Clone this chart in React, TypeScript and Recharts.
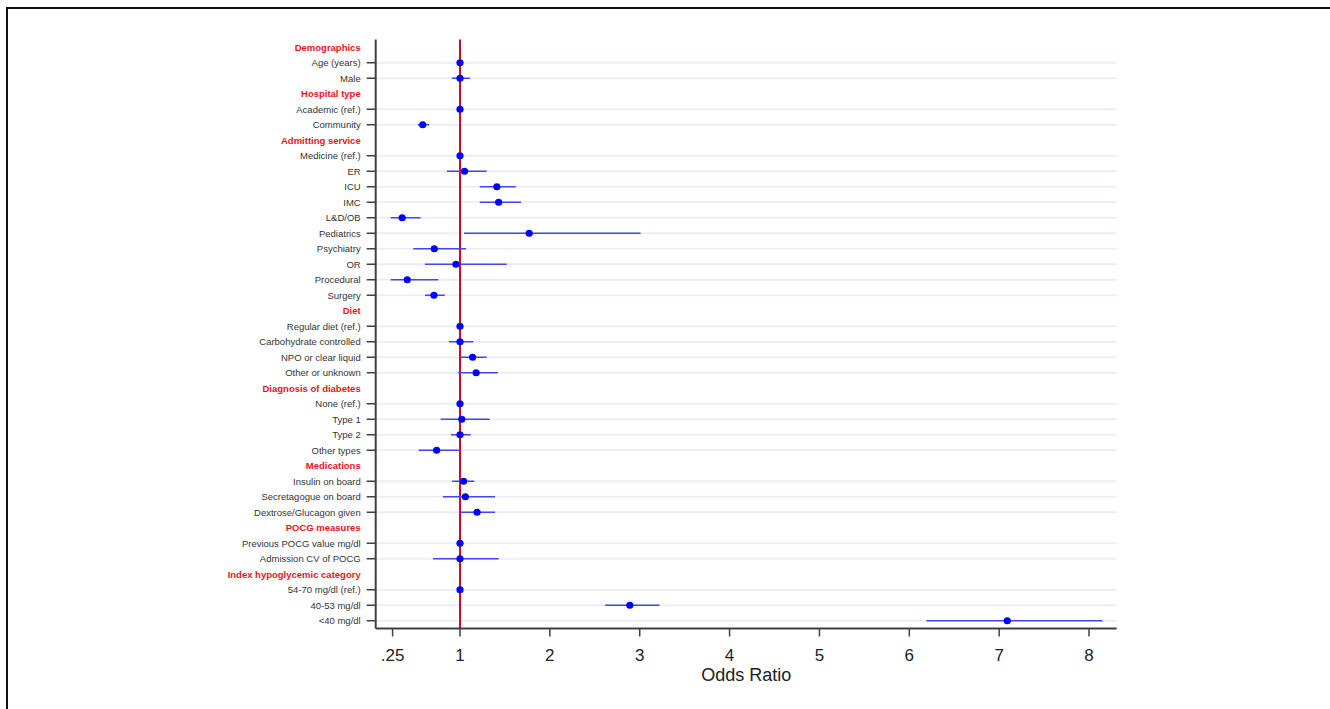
import { ComposedChart, Line, XAxis, YAxis, ErrorBar, ReferenceLine, Label } from 'recharts';

const rowLabels = [
  'Demographics', 'Age (years)', 'Male',
  'Hospital type', 'Academic (ref.)', 'Community',
  'Admitting service', 'Medicine (ref.)', 'ER', 'ICU', 'IMC', 'L&D/OB', 'Pediatrics', 'Psychiatry', 'OR', 'Procedural', 'Surgery',
  'Diet', 'Regular diet (ref.)', 'Carbohydrate controlled', 'NPO or clear liquid', 'Other or unknown',
  'Diagnosis of diabetes', 'None (ref.)', 'Type 1', 'Type 2', 'Other types',
  'Medications', 'Insulin on board', 'Secretagogue on board', 'Dextrose/Glucagon given',
  'POCG measures', 'Previous POCG value mg/dl', 'Admission CV of POCG',
  'Index hypoglycemic category', '54-70 mg/dl (ref.)', '40-53 mg/dl', '<40 mg/dl',
];

// null = section heading
const oddsRatio = [
  null, 1.0, 1.0,
  null, 1, 0.585,
  null, 1, 1.05, 1.41, 1.43, 0.357, 1.77, 0.714, 0.955, 0.413, 0.71,
  null, 1, 1.0, 1.14, 1.18,
  null, 1, 1.02, 1.0, 0.74,
  null, 1.04, 1.06, 1.19,
  null, 1.0, 1.0,
  null, 1, 2.89, 7.09,
];
const ciLower = [
  null, 0.99, 0.91,
  null, 1, 0.53,
  null, 1, 0.855, 1.22, 1.22, 0.23, 1.045, 0.48, 0.61, 0.228, 0.61,
  null, 1, 0.877, 1.008, 0.98,
  null, 1, 0.785, 0.9, 0.54,
  null, 0.91, 0.81, 1.01,
  null, 0.995, 0.7,
  null, 1, 2.615, 6.19,
];
const ciUpper = [
  null, 1.01, 1.11,
  null, 1, 0.655,
  null, 1, 1.297, 1.62, 1.68, 0.56, 3.01, 1.067, 1.52, 0.758, 0.83,
  null, 1, 1.148, 1.297, 1.42,
  null, 1, 1.33, 1.12, 1.0,
  null, 1.16, 1.39, 1.39,
  null, 1.005, 1.43,
  null, 1, 3.22, 8.15,
];
const xTicks = [0.25, 1, 2, 3, 4, 5, 6, 7, 8];

const FONT = '"Liberation Sans", Arial, sans-serif';

const data = rowLabels.map((label, i) => {
  const or = oddsRatio[i];
  const lo = ciLower[i];
  const hi = ciUpper[i];
  return {
    label,
    or,
    err: or == null || lo == null || hi == null ? null : [or - lo, hi - or],
  };
});

const isHeading = (label: string) => oddsRatio[rowLabels.indexOf(label)] == null;

function RowTick(props: any) {
  const { x, y, payload } = props;
  const heading = isHeading(payload.value);
  return (
    <g>
      {!heading && <line x1={x - 9} x2={x} y1={y} y2={y} stroke="#404040" strokeWidth={1.5} />}
      <text
        x={x - 15}
        y={y}
        dy="0.35em"
        textAnchor="end"
        fontSize={9.5}
        fontFamily={FONT}
        fontWeight={heading ? 'bold' : 'normal'}
        fill={heading ? '#e8141c' : '#333'}
      >
        {payload.value}
      </text>
    </g>
  );
}

export default function App() {
  return (
    <div style={{ position: 'absolute', left: 0, top: 0, width: 1330, height: 709, background: '#fff' }}>
      <div
        style={{
          position: 'absolute', left: 6, top: 7, width: 1330, height: 709,
          borderTop: '2px solid #111', borderLeft: '2px solid #111',
        }}
      />
      <div style={{ position: 'absolute', left: 0, top: 0 }}>
        <ComposedChart
          width={1330}
          height={709}
          data={data}
          layout="vertical"
          margin={{ top: 39.5, right: 213.3, bottom: 47.5, left: 0 }}
          style={{ fontFamily: FONT }}
        >
          <XAxis
            type="number"
            domain={[0.062, 8.308]}
            ticks={xTicks}
            interval={0}
            allowDataOverflow
            height={33}
            tickSize={8}
            tickMargin={12}
            tickFormatter={(v: number) => (v === 0.25 ? '.25' : String(v))}
            tick={{ fontSize: 17, fill: '#222', fontFamily: FONT }}
            tickLine={{ stroke: '#404040', strokeWidth: 1.5 }}
            axisLine={{ stroke: '#404040', strokeWidth: 2 }}
          >
            <Label value="Odds Ratio" position="bottom" offset={7} fontSize={18} fill="#222" fontFamily={FONT} />
          </XAxis>
          <YAxis
            type="category"
            dataKey="label"
            width={375.7}
            interval={0}
            padding={{ top: 7.75, bottom: 7.75 }}
            tickSize={0}
            tickMargin={0}
            tickLine={false}
            tick={<RowTick />}
            axisLine={{ stroke: '#404040', strokeWidth: 2 }}
          />
          {rowLabels.filter((l) => !isHeading(l)).map((l) => (
            <ReferenceLine key={l} y={l} stroke="#e9eff4" strokeWidth={2} />
          ))}
          <ReferenceLine x={1} stroke="#cc0a2a" strokeWidth={2} />
          <Line
            dataKey="or"
            stroke="none"
            isAnimationActive={false}
            activeDot={false}
            dot={{ r: 3.6, fill: '#0000ff', stroke: 'none' }}
          >
            <ErrorBar dataKey="err" direction="x" width={0} stroke="#4646ee" strokeWidth={1.5} />
          </Line>
        </ComposedChart>
      </div>
    </div>
  );
}
